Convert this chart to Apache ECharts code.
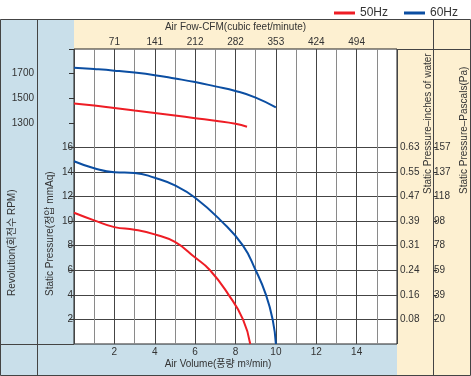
<!DOCTYPE html>
<html>
<head>
<meta charset="utf-8">
<script src="https://cdn.jsdelivr.net/npm/echarts@6/dist/echarts.min.js"></script>
<style>
  html, body { margin: 0; padding: 0; background: #fff; }
  #chart { width: 471px; height: 376px; }
</style>
</head>
<body>
<div id="chart"></div>
<script>
// static pressure curves (x: air volume m3/min, y: mmAq)
const volume50 = [0, 1, 2, 3, 4, 5, 6, 6.74, 7.66, 8.37, 8.73];
const press50 = [10.68, 10.06, 9.51, 9.3, 8.92, 8.3, 7.03, 6.0, 4.0, 2.0, 0];
const volume60 = [0, 1, 2, 3, 4, 5, 6, 7.3, 8.37, 9, 9.51, 9.84, 10];
const press60 = [14.87, 14.3, 13.97, 13.92, 13.52, 12.9, 11.9, 10.0, 8.0, 6.0, 4.0, 2.0, 0];

// revolution curves (RPM)
const rpmVolume50 = [0, 1, 2, 3, 4, 5, 6, 7, 8, 8.57];
const rpm50 = [1457, 1441, 1420, 1399, 1380, 1359, 1337, 1316, 1292, 1268];
const rpmVolume60 = [0, 1, 2, 3, 4, 5, 6, 7, 8, 9, 10];
const rpm60 = [1748, 1737, 1724, 1708, 1687, 1660, 1631, 1596, 1559, 1505, 1425];

// tick labels
const volumeTicks = [2, 4, 6, 8, 10, 12, 14];
const cfmLabels = ['71', '141', '212', '282', '353', '424', '494'];
const mmTicks = [2, 4, 6, 8, 10, 12, 14, 16];
const inchLabels = ['0.08', '0.16', '0.24', '0.31', '0.39', '0.47', '0.55', '0.63'];
const paLabels = ['20', '39', '59', '78', '98', '118', '137', '157'];
const rpmTicks = [1300, 1500, 1700];

const FONT = "'Liberation Sans', Arial, 'Noto Sans CJK KR', sans-serif";
const TXT = '#333';
const RED = '#ee1d25';
const BLUE = '#0b4ea2';
const BLUE_BG = '#c9dfea';
const YEL_BG = '#fdf0d1';
const FRAME = '#444';

const pairs = (xs, ys) => xs.map((x, i) => [x, ys[i]]);

const chart = echarts.init(document.getElementById('chart'));

const lineSeries = (name, color, data, yIndex) => ({
  name: name,
  type: 'line',
  yAxisIndex: yIndex,
  smooth: 0.5,
  symbol: 'none',
  color: color,
  lineStyle: { width: 2, color: color },
  data: data,
  z: 5,
});

const option = {
  animation: false,
  textStyle: { fontFamily: FONT },
  legend: {
    top: 2,
    right: 8,
    icon: 'rect',
    itemWidth: 21,
    itemHeight: 3,
    itemGap: 16,
    textStyle: { fontSize: 12, color: TXT, fontFamily: FONT },
    data: ['50Hz', '60Hz'],
  },
  grid: {
    left: 74,
    top: 49,
    right: 74,
    bottom: 32,
    show: true,
    backgroundColor: '#fff',
    borderColor: '#222',
    borderWidth: 1,
  },
  xAxis: [
    {
      type: 'value',
      min: 0,
      max: 16,
      interval: 1,
      position: 'bottom',
      axisLine: { show: false },
      axisTick: { show: false },
      axisLabel: { customValues: volumeTicks, margin: 3, fontSize: 10, color: TXT, fontFamily: FONT },
      splitLine: { show: true, lineStyle: { color: '#8a8a8a', width: 1 } },
    },
    {
      type: 'value',
      min: 0,
      max: 16,
      interval: 2,
      position: 'top',
      name: 'Air Fow-CFM(cubic feet/minute)',
      nameLocation: 'middle',
      nameGap: 12,
      nameTextStyle: { fontSize: 10, color: TXT, fontFamily: FONT },
      axisLine: { show: false },
      axisTick: { show: false },
      axisLabel: {
        customValues: volumeTicks,
        margin: 2,
        fontSize: 10,
        color: TXT,
        fontFamily: FONT,
        formatter: (v) => cfmLabels[volumeTicks.indexOf(v)] || '',
      },
      splitLine: { show: true, lineStyle: { color: '#444', width: 1 } },
    },
  ],
  yAxis: [
    {
      type: 'value',
      min: 0,
      max: 24,
      interval: 2,
      position: 'left',
      axisLine: { show: false },
      axisTick: { show: true, customValues: mmTicks, length: 3, lineStyle: { color: '#333' } },
      axisLabel: { customValues: mmTicks, margin: 1, fontSize: 10, color: TXT, fontFamily: FONT },
      splitLine: { show: true, lineStyle: { color: '#444', width: 1 } },
    },
    {
      type: 'value',
      min: -500,
      max: 1900,
      interval: 200,
      position: 'left',
      offset: 37,
      axisLine: { show: false },
      axisTick: { show: true, length: 5, lineStyle: { color: '#333' } },
      axisLabel: {
        customValues: rpmTicks,
        margin: 3,
        fontSize: 10,
        color: TXT,
        fontFamily: FONT,
        formatter: (v) => String(v),
      },
      splitLine: { show: false },
    },
    {
      type: 'value',
      min: 0,
      max: 24,
      interval: 2,
      position: 'right',
      axisLine: { show: false },
      axisTick: { show: false },
      axisLabel: {
        customValues: mmTicks,
        margin: 3,
        fontSize: 10,
        color: TXT,
        fontFamily: FONT,
        formatter: (v) => inchLabels[mmTicks.indexOf(v)] || '',
      },
      splitLine: { show: false },
    },
    {
      type: 'value',
      min: 0,
      max: 24,
      interval: 2,
      position: 'right',
      offset: 36,
      axisLine: { show: false },
      axisTick: { show: true, customValues: mmTicks, length: 4, lineStyle: { color: '#333' } },
      axisLabel: {
        customValues: mmTicks,
        margin: 1,
        fontSize: 10,
        color: TXT,
        fontFamily: FONT,
        formatter: (v) => paLabels[mmTicks.indexOf(v)] || '',
      },
      splitLine: { show: false },
    },
  ],
  graphic: [
    // background bands
    { type: 'rect', z: -10, shape: { x: 0, y: 19, width: 74, height: 357 }, style: { fill: BLUE_BG } },
    { type: 'rect', z: -10, shape: { x: 0, y: 344, width: 397, height: 32 }, style: { fill: BLUE_BG } },
    { type: 'rect', z: -10, shape: { x: 74, y: 19, width: 323, height: 30 }, style: { fill: YEL_BG } },
    { type: 'rect', z: -10, shape: { x: 397, y: 19, width: 74, height: 357 }, style: { fill: YEL_BG } },
    // frame
    { type: 'rect', z: 20, shape: { x: 0.5, y: 19.5, width: 470, height: 356 }, style: { fill: 'none', stroke: FRAME, lineWidth: 1 } },
    { type: 'line', z: 20, shape: { x1: 37.5, y1: 19.5, x2: 37.5, y2: 375.5 }, style: { stroke: FRAME, lineWidth: 1 } },
    { type: 'line', z: 20, shape: { x1: 433.5, y1: 19.5, x2: 433.5, y2: 375.5 }, style: { stroke: FRAME, lineWidth: 1 } },
    { type: 'line', z: 20, shape: { x1: 0, y1: 344.5, x2: 74, y2: 344.5 }, style: { stroke: FRAME, lineWidth: 1 } },
    { type: 'line', z: 20, shape: { x1: 397, y1: 49.5, x2: 471, y2: 49.5 }, style: { stroke: FRAME, lineWidth: 1 } },
    // axis titles
    {
      type: 'text', x: 218, y: 364,
      style: { text: 'Air Volume(풍량 m³/min)', font: '10px ' + FONT, fill: TXT, align: 'center', verticalAlign: 'middle' },
    },
    {
      type: 'text', x: 12, y: 296, rotation: Math.PI / 2,
      style: { text: 'Revolution(회전수 RPM)', font: '10px ' + FONT, fill: TXT, align: 'left', verticalAlign: 'middle' },
    },
    {
      type: 'text', x: 50, y: 296, rotation: Math.PI / 2,
      style: { text: 'Static Pressure(정압 mmAq)', font: '10px ' + FONT, fill: TXT, align: 'left', verticalAlign: 'middle' },
    },
    {
      type: 'text', x: 428, y: 194, rotation: Math.PI / 2,
      style: { text: 'Static Pressure–inches of water', font: '10px ' + FONT, fill: TXT, align: 'left', verticalAlign: 'middle' },
    },
    {
      type: 'text', x: 464, y: 194, rotation: Math.PI / 2,
      style: { text: 'Static Pressure–Pascals(Pa)', font: '10px ' + FONT, fill: TXT, align: 'left', verticalAlign: 'middle' },
    },
  ],
  series: [
    lineSeries('50Hz', RED, pairs(volume50, press50), 0),
    lineSeries('60Hz', BLUE, pairs(volume60, press60), 0),
    lineSeries('50Hz', RED, pairs(rpmVolume50, rpm50), 1),
    lineSeries('60Hz', BLUE, pairs(rpmVolume60, rpm60), 1),
  ],
};

chart.setOption(option);
</script>
</body>
</html>
